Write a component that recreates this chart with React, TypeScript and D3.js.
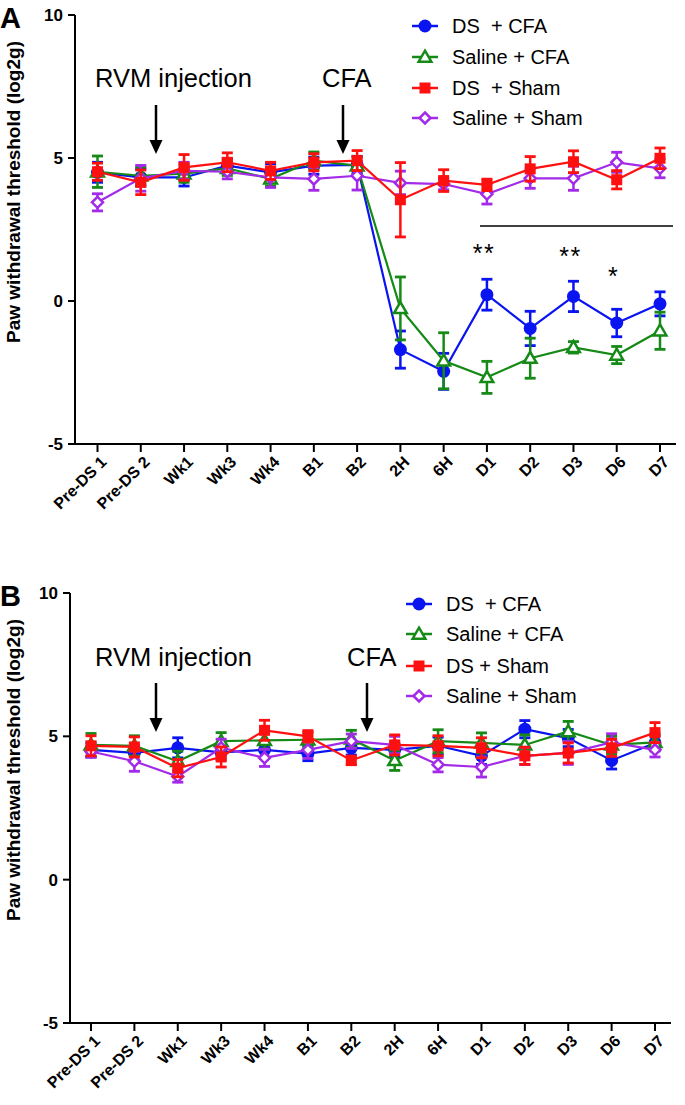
import React from "react";
import * as d3 from "d3";

const categories = ["Pre-DS 1", "Pre-DS 2", "Wk1", "Wk3", "Wk4", "B1", "B2", "2H", "6H", "D1", "D2", "D3", "D6", "D7"];
const yTicks = [10, 5, 0, -5];
const seriesNames = ["DS  + CFA", "Saline + CFA", "DS  + Sham", "Saline + Sham"];
const seriesNamesB = ["DS  + CFA", "Saline + CFA", "DS + Sham", "Saline + Sham"];

// Panel A
const dsCfaA = [4.5, 4.32, 4.32, 4.73, 4.5, 4.73, 4.76, -1.7, -2.46, 0.22, -0.96, 0.16, -0.77, -0.1];
const dsCfaAErr = [0.35, 0.3, 0.3, 0.25, 0.3, 0.3, 0.3, 0.65, 0.63, 0.54, 0.6, 0.53, 0.48, 0.42];
const salCfaA = [4.52, 4.38, 4.45, 4.64, 4.27, 4.91, 4.73, -0.26, -2.09, -2.67, -2.0, -1.62, -1.89, -1.04];
const salCfaAErr = [0.55, 0.3, 0.3, 0.25, 0.25, 0.3, 0.3, 1.1, 0.98, 0.56, 0.7, 0.2, 0.3, 0.65];
const dsShamA = [4.52, 4.15, 4.67, 4.85, 4.55, 4.85, 4.91, 3.54, 4.21, 4.06, 4.62, 4.87, 4.24, 4.99];
const dsShamAErr = [0.3, 0.43, 0.45, 0.33, 0.3, 0.3, 0.35, 1.3, 0.38, 0.2, 0.43, 0.38, 0.32, 0.36];
const salShamA = [3.45, 4.29, 4.55, 4.52, 4.32, 4.27, 4.38, 4.13, 4.09, 3.74, 4.29, 4.29, 4.85, 4.64];
const salShamAErr = [0.3, 0.45, 0.3, 0.25, 0.35, 0.4, 0.5, 0.41, 0.2, 0.35, 0.35, 0.42, 0.35, 0.33];

// Panel B
const dsCfaB = [4.53, 4.42, 4.6, 4.44, 4.53, 4.4, 4.6, 4.53, 4.67, 4.32, 5.25, 4.94, 4.16, 4.77];
const dsCfaBErr = [0.25, 0.25, 0.35, 0.25, 0.3, 0.25, 0.25, 0.25, 0.3, 0.3, 0.3, 0.3, 0.3, 0.25];
const salCfaB = [4.7, 4.67, 4.13, 4.83, 4.86, 4.88, 4.91, 4.16, 4.83, 4.77, 4.7, 5.17, 4.7, 4.79];
const salCfaBErr = [0.4, 0.35, 0.35, 0.3, 0.3, 0.25, 0.3, 0.35, 0.4, 0.35, 0.35, 0.35, 0.3, 0.3];
const dsShamB = [4.67, 4.63, 3.89, 4.28, 5.21, 5.0, 4.16, 4.7, 4.67, 4.6, 4.32, 4.42, 4.6, 5.13];
const dsShamBErr = [0.35, 0.35, 0.3, 0.35, 0.35, 0.2, 0.15, 0.35, 0.35, 0.35, 0.3, 0.35, 0.3, 0.35];
const salShamB = [4.47, 4.13, 3.6, 4.6, 4.25, 4.53, 4.83, 4.7, 4.01, 3.93, 4.32, 4.42, 4.79, 4.53];
const salShamBErr = [0.2, 0.35, 0.2, 0.3, 0.3, 0.3, 0.25, 0.3, 0.25, 0.35, 0.3, 0.4, 0.3, 0.25];

const colors = ["#0a14f0", "#168a16", "#ff1010", "#a32ae8"];
const markerKinds = ["circle", "triangle", "square", "diamond"];

// significance stars for panel A
const starCats = ["D1", "D3", "D6"];
const starTexts = ["**", "**", "*"];

const FONT = "Liberation Sans, Arial, Helvetica, sans-serif";

function Marker({ kind, x, y, color }: { kind: string; x: number; y: number; color: string }) {
  if (kind === "circle") return <circle cx={x} cy={y} r={6.5} fill={color} />;
  if (kind === "square") return <rect x={x - 5.5} y={y - 5.5} width={11} height={11} fill={color} />;
  if (kind === "triangle") {
    const p = d3.symbol().type(d3.symbolTriangle).size(70)();
    return <path d={p || ""} transform={`translate(${x},${y + 1})`} fill="white" stroke={color} strokeWidth={2.5} />;
  }
  const s = 5.5;
  return (
    <path
      d={`M${x},${y - s}L${x + s},${y}L${x},${y + s}L${x - s},${y}Z`}
      fill="white"
      stroke={color}
      strokeWidth={2.5}
    />
  );
}

type PanelProps = {
  top: number;
  bottom: number;
  axisX: number;
  firstX: number;
  lastX: number;
  letter: string;
  series: number[][];
  errors: number[][];
  names: string[];
  legendX: number;
  legendY: number[];
  rvmText: [number, number];
  cfaText: [number, number];
  rvmArrowX: number;
  cfaArrowX: number;
  arrowY: [number, number];
  labelCenterY: number;
  stars?: boolean;
};

function Panel(p: PanelProps) {
  const x = d3.scalePoint<string>().domain(categories).range([p.firstX, p.lastX]);
  const y = d3.scaleLinear().domain([-5, 10]).range([p.bottom, p.top]);
  const line = d3
    .line<number>()
    .x((_, i) => x(categories[i]) as number)
    .y((d) => y(d));
  const axisEnd = p.lastX + 16;
  const order = [0, 1, 3, 2];
  return (
    <g>
      <text x={0} y={p.top + 13} fontFamily={FONT} fontWeight="bold" fontSize={29}>
        {p.letter}
      </text>
      {/* y axis */}
      <line x1={p.axisX} x2={p.axisX} y1={p.top} y2={p.bottom} stroke="black" strokeWidth={2} />
      {yTicks.map((t) => (
        <g key={t}>
          <line x1={p.axisX - 7} x2={p.axisX} y1={y(t)} y2={y(t)} stroke="black" strokeWidth={2} />
          <text
            x={p.axisX - 12}
            y={y(t)}
            dy="0.35em"
            textAnchor="end"
            fontFamily={FONT}
            fontWeight="bold"
            fontSize={17}
          >
            {t}
          </text>
        </g>
      ))}
      <text
        transform={`translate(${20},${p.labelCenterY}) rotate(-90)`}
        textAnchor="middle"
        fontFamily={FONT}
        fontWeight="bold"
        fontSize={19}
      >
        Paw withdrawal threshold (log2g)
      </text>
      {/* x axis */}
      <line x1={p.axisX - 1} x2={axisEnd} y1={p.bottom} y2={p.bottom} stroke="black" strokeWidth={2} />
      {categories.map((c) => (
        <g key={c} transform={`translate(${x(c)},${p.bottom})`}>
          <line y1={0} y2={8} stroke="black" strokeWidth={2} />
          <text
            transform="translate(6,15) rotate(-45)"
            textAnchor="end"
            fontFamily={FONT}
            fontWeight="bold"
            fontSize={16}
            dy="0.35em"
          >
            {c}
          </text>
        </g>
      ))}
      {/* annotations */}
      <text x={p.rvmText[0]} y={p.rvmText[1]} fontFamily={FONT} fontSize={25.5}>
        RVM injection
      </text>
      <text x={p.cfaText[0]} y={p.cfaText[1]} fontFamily={FONT} fontSize={25.5}>
        CFA
      </text>
      {[p.rvmArrowX, p.cfaArrowX].map((ax, i) => (
        <g key={i}>
          <line x1={ax} x2={ax} y1={p.arrowY[0]} y2={p.arrowY[1] - 10} stroke="black" strokeWidth={2.5} />
          <path
            d={`M${ax - 6.5},${p.arrowY[1] - 14}L${ax + 6.5},${p.arrowY[1] - 14}L${ax},${p.arrowY[1]}Z`}
            fill="black"
          />
        </g>
      ))}
      {/* significance */}
      {p.stars && (
        <g>
          <line x1={480} x2={673} y1={226} y2={226} stroke="black" strokeWidth={1.5} />
          {starCats.map((c, i) => (
            <text
              key={c}
              x={(x(c) as number) - 3}
              y={y(starTexts[i].length === 2 ? (i === 0 ? 1.35 : 1.25) : 0.55)}
              textAnchor="middle"
              fontFamily={FONT}
              fontSize={25}
              letterSpacing={1.5}
            >
              {starTexts[i]}
            </text>
          ))}
        </g>
      )}
      {/* data */}
      {order.map((si) => {
        const vals = p.series[si];
        const errs = p.errors[si];
        const col = colors[si];
        return (
          <g key={si}>
            <path d={line(vals) || ""} fill="none" stroke={col} strokeWidth={2.2} />
            {vals.map((v, i) => {
              const cx = x(categories[i]) as number;
              const y1 = y(v + errs[i]);
              const y2 = y(v - errs[i]);
              return (
                <g key={i}>
                  <line x1={cx} x2={cx} y1={y1} y2={y2} stroke={col} strokeWidth={2.5} />
                  <line x1={cx - 5.5} x2={cx + 5.5} y1={y1} y2={y1} stroke={col} strokeWidth={2.8} />
                  <line x1={cx - 5.5} x2={cx + 5.5} y1={y2} y2={y2} stroke={col} strokeWidth={2.8} />
                </g>
              );
            })}
            {vals.map((v, i) => (
              <Marker key={"m" + i} kind={markerKinds[si]} x={x(categories[i]) as number} y={y(v)} color={col} />
            ))}
          </g>
        );
      })}
      {/* legend */}
      {p.names.map((n, i) => (
        <g key={n} transform={`translate(${p.legendX},${p.legendY[i]})`}>
          <line x1={-13} x2={13} y1={0} y2={0} stroke={colors[i]} strokeWidth={2.5} />
          <Marker kind={markerKinds[i]} x={0} y={0} color={colors[i]} />
          <text x={27} y={0} dy="0.36em" fontFamily={FONT} fontSize={20} style={{ whiteSpace: "pre" }}>
            {n}
          </text>
        </g>
      ))}
    </g>
  );
}

export default function App() {
  return (
    <svg
      width={685}
      height={1105}
      viewBox="0 0 685 1105"
      style={{ position: "absolute", left: 0, top: 0, background: "white" }}
    >
      <rect width={685} height={1105} fill="white" />
      <Panel
        top={15}
        bottom={444}
        axisX={75}
        firstX={97.5}
        lastX={660}
        letter="A"
        series={[dsCfaA, salCfaA, dsShamA, salShamA]}
        errors={[dsCfaAErr, salCfaAErr, dsShamAErr, salShamAErr]}
        names={seriesNames}
        legendX={425}
        legendY={[26, 57, 88, 118]}
        rvmText={[95, 87]}
        cfaText={[322, 87]}
        rvmArrowX={156}
        cfaArrowX={343}
        arrowY={[105, 154]}
        labelCenterY={192}
        stars
      />
      <Panel
        top={593}
        bottom={1023}
        axisX={70}
        firstX={91}
        lastX={655}
        letter="B"
        series={[dsCfaB, salCfaB, dsShamB, salShamB]}
        errors={[dsCfaBErr, salCfaBErr, dsShamBErr, salShamBErr]}
        names={seriesNamesB}
        legendX={419}
        legendY={[604, 634, 666, 696]}
        rvmText={[95, 666]}
        cfaText={[347, 666]}
        rvmArrowX={156}
        cfaArrowX={367}
        arrowY={[683, 732]}
        labelCenterY={770}
      />
    </svg>
  );
}
